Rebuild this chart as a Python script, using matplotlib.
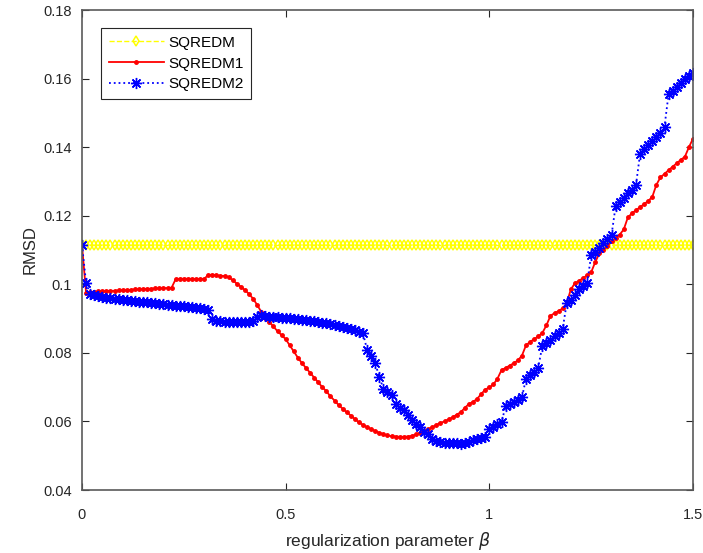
"""RMSD versus regularization parameter for the three SQREDM variants."""

import matplotlib
matplotlib.use('Agg')
import matplotlib.pyplot as plt
from matplotlib.ticker import FuncFormatter

plt.rcParams['font.family'] = ['Liberation Sans', 'DejaVu Sans']
plt.rcParams['mathtext.fontset'] = 'dejavusans'

# beta goes from 0 to 1.5 in steps of 0.01
beta = [i / 100 for i in range(151)]

sqredm_level = 0.1115
sqredm = [sqredm_level] * len(beta)

sqredm1 = [
    0.1115, 0.0976, 0.0977, 0.0978, 0.0979, 0.0979, 0.0980, 0.0981, 0.0981, 0.0982,
    0.0983, 0.0983, 0.0984, 0.0985, 0.0985, 0.0986, 0.0987, 0.0987, 0.0988, 0.0988,
    0.0989, 0.0989, 0.0990, 0.1015, 0.1016, 0.1016, 0.1016, 0.1016, 0.1015, 0.1015,
    0.1016, 0.1027, 0.1028, 0.1026, 0.1025, 0.1024, 0.1021, 0.1012, 0.1002, 0.0993,
    0.0983, 0.0972, 0.0958, 0.0940, 0.0920, 0.0903, 0.0890, 0.0877, 0.0863, 0.0852,
    0.0840, 0.0822, 0.0804, 0.0786, 0.0770, 0.0756, 0.0742, 0.0728, 0.0714, 0.0700,
    0.0688, 0.0673, 0.0661, 0.0648, 0.0637, 0.0627, 0.0617, 0.0607, 0.0597, 0.0590,
    0.0583, 0.0578, 0.0572, 0.0567, 0.0563, 0.0559, 0.0557, 0.0556, 0.0555, 0.0555,
    0.0556, 0.0558, 0.0562, 0.0567, 0.0572, 0.0578, 0.0583, 0.0590, 0.0596, 0.0600,
    0.0606, 0.0612, 0.0620, 0.0627, 0.0640, 0.0651, 0.0657, 0.0666, 0.0680, 0.0693,
    0.0699, 0.0708, 0.0725, 0.0750, 0.0756, 0.0763, 0.0770, 0.0778, 0.0792, 0.0822,
    0.0832, 0.0840, 0.0848, 0.0858, 0.0880, 0.0908, 0.0916, 0.0922, 0.0930, 0.0945,
    0.0985, 0.1003, 0.1010, 0.1018, 0.1026, 0.1035, 0.1065, 0.1090, 0.1100, 0.1112,
    0.1125, 0.1135, 0.1145, 0.1160, 0.1195, 0.1207, 0.1216, 0.1225, 0.1234, 0.1243,
    0.1255, 0.1290, 0.1312, 0.1322, 0.1333, 0.1343, 0.1353, 0.1363, 0.1372, 0.1400,
    0.1425,
]

sqredm2 = [
    0.1115, 0.1005, 0.0972, 0.0968, 0.0965, 0.0963, 0.0961, 0.0959, 0.0957, 0.0956,
    0.0955, 0.0953, 0.0952, 0.0950, 0.0949, 0.0948, 0.0947, 0.0945, 0.0944, 0.0943,
    0.0942, 0.0940, 0.0939, 0.0938, 0.0937, 0.0936, 0.0935, 0.0933, 0.0932, 0.0930,
    0.0928, 0.0925, 0.0900, 0.0893, 0.0892, 0.0891, 0.0890, 0.0890, 0.0890, 0.0889,
    0.0889, 0.0890, 0.0893, 0.0906, 0.0909, 0.0907, 0.0906, 0.0905, 0.0904, 0.0903,
    0.0902, 0.0901, 0.0900, 0.0898, 0.0897, 0.0896, 0.0894, 0.0892, 0.0890, 0.0888,
    0.0886, 0.0883, 0.0881, 0.0879, 0.0876, 0.0873, 0.0870, 0.0867, 0.0862, 0.0857,
    0.0808, 0.0790, 0.0769, 0.0730, 0.0695, 0.0685, 0.0677, 0.0650, 0.0640, 0.0633,
    0.0618, 0.0603, 0.0592, 0.0584, 0.0570, 0.0562, 0.0550, 0.0542, 0.0540, 0.0538,
    0.0537, 0.0536, 0.0536, 0.0535, 0.0537, 0.0541, 0.0545, 0.0548, 0.0551, 0.0555,
    0.0578, 0.0585, 0.0592, 0.0598, 0.0645, 0.0650, 0.0656, 0.0662, 0.0670, 0.0725,
    0.0735, 0.0745, 0.0757, 0.0820, 0.0830, 0.0838, 0.0848, 0.0858, 0.0870, 0.0945,
    0.0955, 0.0968, 0.0985, 0.0995, 0.1003, 0.1085, 0.1095, 0.1105, 0.1120, 0.1132,
    0.1144, 0.1228, 0.1240, 0.1252, 0.1265, 0.1275, 0.1290, 0.1380, 0.1395, 0.1405,
    0.1418, 0.1430, 0.1442, 0.1460, 0.1555, 0.1565, 0.1575, 0.1587, 0.1598, 0.1608,
    0.1617,
]

x_ticks = [0, 0.5, 1, 1.5]
y_ticks = [0.04, 0.06, 0.08, 0.10, 0.12, 0.14, 0.16, 0.18]

assert len(sqredm1) == len(beta) and len(sqredm2) == len(beta)


def main() -> None:
    fig = plt.figure(figsize=(7.03, 5.53), dpi=100)
    ax = fig.add_axes([0.1166, 0.1139, 0.8692, 0.868])

    ax.plot(beta, sqredm, color='#ffff00', linestyle='--', linewidth=1,
            marker='d', markersize=5.5, markerfacecolor='none',
            markeredgewidth=1.1, label='SQREDM')
    ax.plot(beta, sqredm1, color='#ff0000', linestyle='-', linewidth=1.3,
            marker='.', markersize=5, label='SQREDM1')
    # MATLAB-style asterisk: eight spokes
    ax.plot(beta, sqredm2, color='#0000ff', linestyle=':', linewidth=1.3,
            marker=(8, 2, 0), markersize=8, markeredgewidth=1.0,
            label='SQREDM2')

    ax.set_xlim(0, 1.5)
    ax.set_ylim(0.04, 0.18)
    ax.set_xticks(x_ticks)
    ax.set_yticks(y_ticks)
    ax.xaxis.set_major_formatter(FuncFormatter(lambda v, _: f'{v:g}'))
    ax.yaxis.set_major_formatter(FuncFormatter(lambda v, _: f'{v:g}'))

    ax.tick_params(direction='in', length=5, width=0.8, colors='#262626',
                   labelsize=10.5, top=True, right=True)
    ax.tick_params(axis='x', pad=13)
    ax.tick_params(axis='y', pad=7)
    for spine in ax.spines.values():
        spine.set_color('#5a5a5a')
        spine.set_linewidth(1.2)

    ax.set_xlabel(r'regularization parameter $\beta$', fontsize=12.5,
                  color='#262626', labelpad=6)
    ax.set_ylabel('RMSD', fontsize=12, color='#262626')

    leg = ax.legend(loc='upper left', bbox_to_anchor=(0.031, 0.9625),
                    borderaxespad=0, fontsize=11, handlelength=3.6,
                    handletextpad=0.3, borderpad=0.5, labelspacing=0.45,
                    fancybox=False, framealpha=1)
    leg.get_frame().set_edgecolor('#262626')
    leg.get_frame().set_linewidth(0.8)

    fig.savefig('out.png', dpi=100)
    plt.close(fig)


if __name__ == '__main__':
    main()
